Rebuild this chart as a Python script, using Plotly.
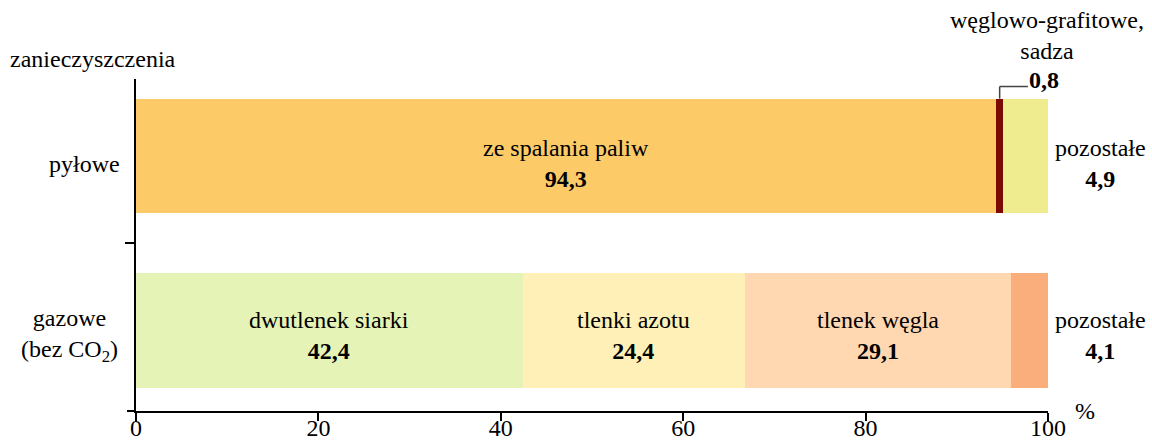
import plotly.graph_objects as go

categories = ["gazowe", "pyłowe"]
cat_labels = ["gazowe<br>(bez CO<sub>2</sub>)", "pyłowe"]

# pyłowe series
dust_names = ["ze spalania paliw", "węglowo-grafitowe, sadza", "pozostałe"]
dust_values = [94.3, 0.8, 4.9]
dust_colors = ["#FDCA68", "#7A0A02", "#EFEC90"]

# gazowe series
gas_names = ["dwutlenek siarki", "tlenki azotu", "tlenek węgla", "pozostałe"]
gas_values = [42.4, 24.4, 29.1, 4.1]
gas_colors = ["#E6F3B6", "#FEF0B6", "#FFD8B2", "#FAAE7B"]

x_ticks = [0, 20, 40, 60, 80, 100]

FONT = "serif"
FS = 24

def fmt(v):
    return f"{v:.1f}".replace(".", ",")

fig = go.Figure()
for name, v, c in zip(dust_names, dust_values, dust_colors):
    fig.add_trace(go.Bar(y=["pyłowe"], x=[v], orientation="h", marker=dict(color=c, line=dict(width=0)),
                         width=0.655, name=name, showlegend=False, hoverinfo="x+name"))
for name, v, c in zip(gas_names, gas_values, gas_colors):
    fig.add_trace(go.Bar(y=["gazowe"], x=[v], orientation="h", marker=dict(color=c, line=dict(width=0)),
                         width=0.655, name=name, showlegend=False, hoverinfo="x+name"))

ann = []
def txt(**kw):
    kw.setdefault("showarrow", False)
    kw.setdefault("xanchor", "center")
    kw.setdefault("font", dict(size=FS, family=FONT, color="black"))
    ann.append(kw)

def inside(cat, names, values, idxs, yshift):
    start = 0
    for i, (n, v) in enumerate(zip(names, values)):
        if i in idxs:
            txt(x=start + v / 2, y=cat, xref="x", yref="y", text=f"{n}<br><b>{fmt(v)}</b>", yshift=yshift)
        start += v

inside("pyłowe", dust_names, dust_values, [0], -8)
inside("gazowe", gas_names, gas_values, [0, 1, 2], -5)

# right labels
txt(x=1.058, y="pyłowe", xref="paper", yref="y", text=f"pozostałe<br><b>{fmt(dust_values[2])}</b>", yshift=-8)
txt(x=1.058, y="gazowe", xref="paper", yref="y", text=f"pozostałe<br><b>{fmt(gas_values[3])}</b>", yshift=-5)

# top annotation for węglowo-grafitowe
txt(x=0.999, y=1, xref="paper", yref="paper", text="węglowo-grafitowe,<br>sadza", yanchor="bottom", yshift=13)
xc = dust_values[0] + dust_values[1] / 2
txt(x=xc, y=1, xref="x", yref="paper", text=f"<b>{fmt(dust_values[1])}</b>",
    xanchor="left", yanchor="middle", xshift=27, yshift=-1)

# category labels
txt(x=-0.0154, y="pyłowe", xref="paper", yref="y", text=cat_labels[1], xanchor="right", yshift=-8)
txt(x=-0.0175, y="gazowe", xref="paper", yref="y", text=cat_labels[0], xanchor="right", align="center", yshift=-5)

txt(x=-0.14, y=1.06, xref="paper", yref="paper", text="zanieczyszczenia", xanchor="left", yanchor="middle")
txt(x=1.041, y=0.0, xref="paper", yref="paper", text="%", yanchor="middle", yshift=0)

shapes = [
    dict(type="line", xref="x", yref="y", x0=xc, x1=xc, y0=1.0 + 0.655 / 2, y1=1.397,
         line=dict(color="#444", width=1.5)),
    dict(type="line", xref="x", yref="y", x0=xc, x1=xc + 3.1, y0=1.397, y1=1.397,
         line=dict(color="#444", width=1.5)),
    dict(type="line", xref="paper", yref="paper", x0=-0.0099, x1=0, y0=0, y1=0,
         line=dict(color="black", width=2)),
]

fig.update_layout(
    barmode="stack",
    width=1152, height=442,
    margin=dict(l=136, r=104, t=79, b=31, autoexpand=False),
    plot_bgcolor="white", paper_bgcolor="white",
    font=dict(family=FONT, size=FS, color="black"),
    annotations=ann, shapes=shapes,
    xaxis=dict(range=[0, 100], tickvals=x_ticks, ticktext=[str(t) for t in x_ticks],
               showline=True, linecolor="black", linewidth=2, ticks="outside", ticklen=8,
               tickwidth=2, tickcolor="black", showgrid=False, zeroline=False, automargin=False,
               ticklabelstandoff=-14,
               tickfont=dict(size=FS, family=FONT, color="black")),
    yaxis=dict(type="category", categoryorder="array", categoryarray=categories,
               range=[-0.46, 1.44], showline=True, linecolor="black", linewidth=2,
               ticks="outside", tickson="boundaries", ticklen=9, tickwidth=2, tickcolor="black",
               showticklabels=False, showgrid=False, zeroline=False, automargin=False),
)

fig.write_html("out.html", config={"displayModeBar": False})
with open("out.html", encoding="utf-8") as f:
    html = f.read()
html = html.replace("<head>", "<head><style>html,body{margin:0;padding:0;overflow:hidden;}</style>", 1)
with open("out.html", "w", encoding="utf-8") as f:
    f.write(html)
